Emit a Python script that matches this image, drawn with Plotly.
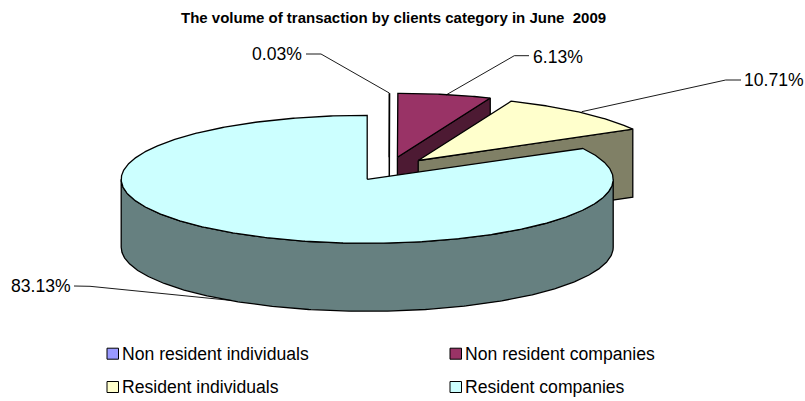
import numpy as np
import plotly.graph_objects as go

TITLE = "The volume of transaction by clients category in June\u00a0\u00a02009"
categories = ["Non resident individuals", "Non resident companies", "Resident individuals", "Resident companies"]
shares = [0.03, 6.13, 10.71, 83.13]
tick_labels = ["0.03%", "6.13%", "10.71%", "83.13%"]
top_colors = ["#9999FF", "#993366", "#FFFFCC", "#CCFFFF"]
wall_colors = ["#4D4D80", "#4D1A33", "#808066", "#668080"]

# pie projection, in pixels of the 805x401 page
CX, CY, RX, RY, DEPTH = 367.2, 179.3, 246.0, 64.0, 68.0
explode = [(22.0, -22.0), (30.2, -22.0), (51.0, -18.8), (0.0, 0.0)]
LINE = dict(color="#000000", width=1.3)

fig = go.Figure()


def poly(xs, ys, color):
    fig.add_trace(go.Scatter(x=xs, y=ys, mode="lines", fill="toself", fillcolor=color,
                             line=LINE, hoverinfo="skip", showlegend=False))


def rim(cx, cy, a0, a1, dy=0.0):
    t = np.radians(np.linspace(a0, a1, max(2, int(abs(a1 - a0)) * 2 + 2)))
    return cx + RX * np.sin(t), cy + dy - RY * np.cos(t)


edges = np.cumsum([0.0] + shares) / sum(shares) * 360.0

for i in range(4):
    a0, a1 = edges[i], edges[i + 1]
    cx, cy = CX + explode[i][0], CY + explode[i][1]
    if i < 3:
        # cut face along the clockwise edge of an exploded slice
        ex, ey = rim(cx, cy, a1, a1)
        poly([cx, ex[0], ex[0], cx, cx], [cy, ey[0], ey[0] + DEPTH, cy + DEPTH, cy], wall_colors[i])
    else:
        # outer front wall of the main slice
        lo, hi = max(a0, 90.0), 270.0
        x0, y0 = rim(cx, cy, lo, hi)
        x1, y1 = rim(cx, cy, lo, hi, DEPTH)
        poly(np.r_[x0, x1[::-1], x0[0]], np.r_[y0, y1[::-1], y0[0]], wall_colors[i])
    rx, ry = rim(cx, cy, a0, a1)
    poly(np.r_[cx, rx, cx], np.r_[cy, ry, cy], top_colors[i])

# leader lines
leaders = [
    ([306, 321, 389.3], [54, 54, 93]),
    ([529, 514.3, 446], [55.7, 55.7, 95]),
    ([741, 725.7, 581.7], [80, 80, 111.7]),
    ([74, 90, 232], [286, 286.3, 300.5]),
]
for xs, ys in leaders:
    fig.add_trace(go.Scatter(x=xs, y=ys, mode="lines", line=dict(color="#000000", width=0.9),
                             hoverinfo="skip", showlegend=False))

FONT = "Liberation Sans, Arial, sans-serif"
label_pos = [(302.6, 54.3, "right"), (531.5, 56.5, "left"), (743.4, 80, "left"), (71.6, 286, "right")]
annotations = []
for (x, y, anchor), text in zip(label_pos, tick_labels):
    annotations.append(dict(x=x, y=y, text=text, xref="x", yref="y", xanchor=anchor, yanchor="middle",
                            showarrow=False, borderpad=0,
                            font=dict(family=FONT, size=17.6, color="#000000")))

annotations.append(dict(x=393.5, y=17, text="<b>" + TITLE + "</b>", xref="x", yref="y", xanchor="center",
                        yanchor="middle", showarrow=False, borderpad=0,
                        font=dict(family=FONT, size=15, color="#000000")))

legend_pos = [(107, 353.7), (450, 353.7), (107, 387), (450, 387)]
shapes = []
for (x, y), name, color in zip(legend_pos, categories, top_colors):
    shapes.append(dict(type="rect", xref="x", yref="y", x0=x, x1=x + 11.5, y0=y - 5.5, y1=y + 5.5,
                       fillcolor=color, line=dict(color="#000000", width=1)))
    annotations.append(dict(x=x + 14, y=y, text=name, xref="x", yref="y", xanchor="left", yanchor="middle",
                            showarrow=False, borderpad=0,
                            font=dict(family=FONT, size=17.6, color="#000000")))

fig.update_layout(
    width=805, height=401, margin=dict(l=0, r=0, t=0, b=0),
    paper_bgcolor="#FFFFFF", plot_bgcolor="#FFFFFF", showlegend=False,
    xaxis=dict(range=[0, 805], visible=False, fixedrange=True),
    yaxis=dict(range=[401, 0], visible=False, fixedrange=True),
    annotations=annotations, shapes=shapes,
)
fig.write_html("out.html", config={"displayModeBar": False},
               post_script="document.body.style.margin='0';document.body.style.overflow='hidden';")
